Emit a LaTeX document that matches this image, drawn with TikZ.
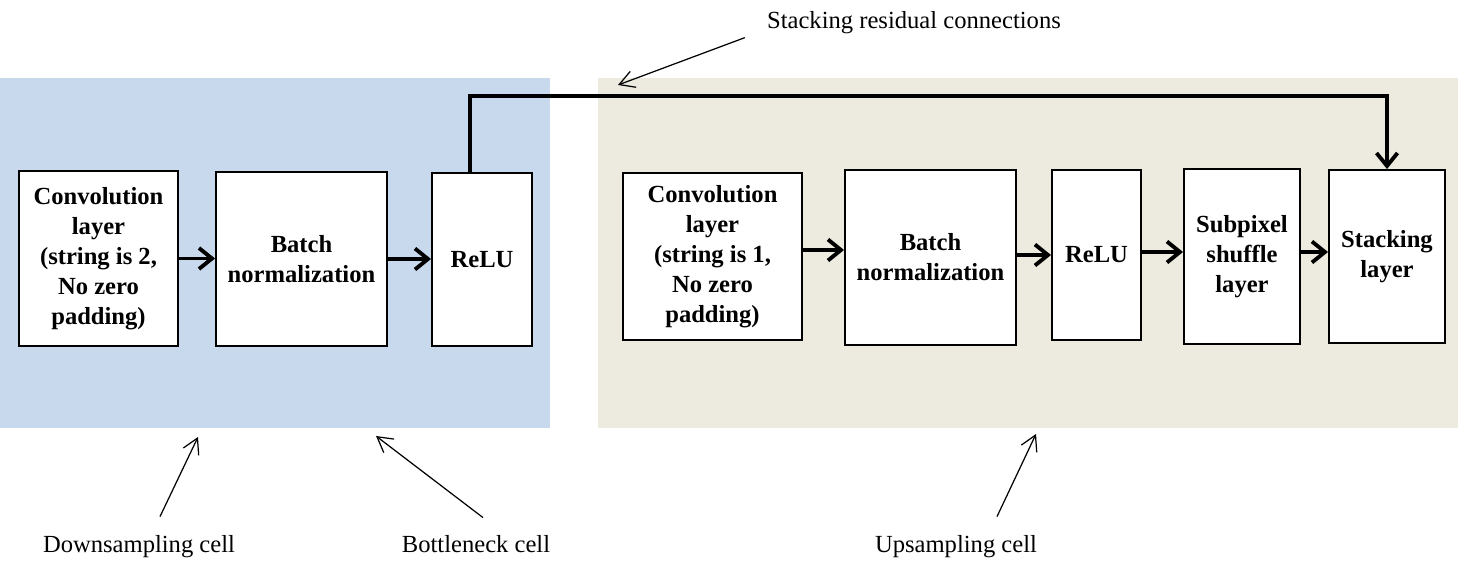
\documentclass[tikz,border=0pt]{standalone}
\usepackage{fontspec}
\setmainfont{Liberation Serif}
\usetikzlibrary{arrows.meta}
\definecolor{downcol}{RGB}{200,217,237}
\definecolor{upcol}{RGB}{237,234,224}
\begin{document}
\begin{tikzpicture}
  [
    x = 0.02cm, y = -0.02cm,
    every node/.style = {font = \fontsize{14}{17}\selectfont, inner sep = 0pt},
    layer/.style = {draw, rectangle, line width = 1.1pt, fill = white, align = center, font = \fontsize{14}{17}\selectfont\bfseries},
    flow/.style = {-{Straight Barb[length = 2.6mm, width = 4.2mm]}, line width = 2.2pt},
    note/.style = {-{Straight Barb[length = 3mm, width = 3.4mm]}, line width = 0.7pt}
  ]
    \useasboundingbox (0,0) rectangle (1458,574);
    \fill [downcol] (0,78) rectangle (550,428);
    \fill [upcol] (598,78) rectangle (1458,428);
    % downsampling and bottleneck
    \node (c1) [layer, minimum width = 3.18cm, minimum height = 3.5cm] at (98.5,258.5) {Convolution\\layer\\(string is 2,\\No zero\\padding)};
    \node (b1) [layer, minimum width = 3.42cm, minimum height = 3.48cm] at (301.5,259) {Batch\\normalization};
    \node (r1) [layer, minimum width = 2.0cm, minimum height = 3.46cm] at (482,259.5) {ReLU};
    % upsampling
    \node (c2) [layer, minimum width = 3.58cm, minimum height = 3.34cm] at (712.5,256.5) {Convolution\\layer\\(string is 1,\\No zero\\padding)};
    \node (b2) [layer, minimum width = 3.42cm, minimum height = 3.5cm] at (930.5,257.5) {Batch\\normalization};
    \node (r2) [layer, minimum width = 1.78cm, minimum height = 3.4cm] at (1096.5,255) {ReLU};
    \node (p2) [layer, minimum width = 2.32cm, minimum height = 3.5cm] at (1242,256.5) {Subpixel\\shuffle\\layer};
    \node (s2) [layer, minimum width = 2.32cm, minimum height = 3.46cm] at (1387,256.5) {Stacking\\layer};
    \draw [flow] (c1.east) -- (c1.east -| b1.west);
    \draw [flow] (b1.east) -- (b1.east -| r1.west);
    \draw [flow] ([yshift = 0.13cm]c2.east) -- ([yshift = 0.13cm]c2.east -| b2.west);
    \draw [flow] ([yshift = 0.05cm]b2.east) -- ([yshift = 0.05cm]b2.east -| r2.west);
    \draw [flow] ([yshift = 0.06cm]r2.east) -- ([yshift = 0.06cm]r2.east -| p2.west);
    \draw [flow] ([yshift = 0.09cm]p2.east) -- ([yshift = 0.09cm]p2.east -| s2.west);
    % residual connection
    \coordinate (top) at (1387,96);
    \draw [flow] ([xshift = -0.24cm]r1.north) |- (top) -- (s2.north);
    % notes
    \node (src) [anchor = base] at (914,29) {Stacking residual connections};
    \node (ds) [anchor = base] at (139,552) {Downsampling cell};
    \node (bn) [anchor = base] at (476,552) {Bottleneck cell};
    \node (us) [anchor = base] at (956,552) {Upsampling cell};
    \coordinate (srcTip) at (618,85);
    \coordinate (dsTip) at (198,437);
    \coordinate (bnTip) at (376,436);
    \coordinate (usTip) at (1036,434);
    \draw [note] ([xshift = -0.44cm, yshift = -0.06cm]src.south west) -- (srcTip);
    \draw [note] ([xshift = 0.42cm, yshift = 0.36cm]ds.north) -- (dsTip);
    \draw [note] ([xshift = 0.14cm, yshift = 0.34cm]bn.north) -- (bnTip);
    \draw [note] ([xshift = 0.82cm, yshift = 0.36cm]us.north) -- (usTip);
\end{tikzpicture}
\end{document}
